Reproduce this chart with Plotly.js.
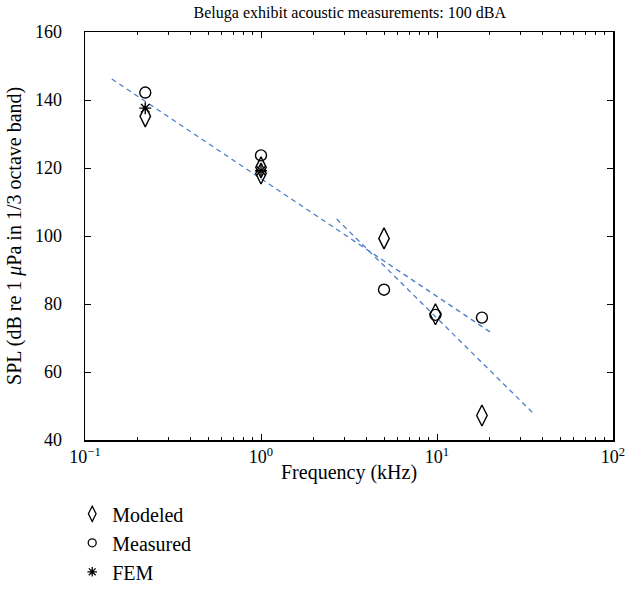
<!DOCTYPE html>
<html>
<head>
<meta charset="utf-8">
<script src="https://cdn.plot.ly/plotly-3.0.1.min.js"></script>
<style>body{margin:0;padding:0;background:#fff}#chart{width:628px;height:608px}</style>
</head>
<body>
<div id="chart"></div>
<script>
// Data
const modeledFreq = [0.22, 1.0, 1.0, 5.0, 9.8, 18.0];
const modeledSPL  = [135.2, 120.2, 118.4, 99.3, 77.0, 47.2];
const measuredFreq = [0.22, 1.0, 5.0, 9.8, 18.0];
const measuredSPL  = [142.2, 123.7, 84.2, 76.8, 76.0];
const femFreq = [0.22, 1.0];
const femSPL  = [137.6, 119.2];
const fit1Freq = [0.142, 20.8];
const fit1SPL  = [146.2, 71.2];
const fit2Freq = [2.69, 35.0];
const fit2SPL  = [105.0, 48.0];
const xTickVals = [0.1, 1, 10, 100];
const xTickText = ['10<sup>−1</sup>', '10<sup>0</sup>', '10<sup>1</sup>', '10<sup>2</sup>'];
const xMinorVals = [0.2,0.3,0.4,0.5,0.6,0.7,0.8,0.9, 2,3,4,5,6,7,8,9, 20,30,40,50,60,70,80,90];
const yTickVals = [40, 60, 80, 100, 120, 140, 160];
const yTickText = ['40', '60', '80', '100', '120', '140', '160'];
const seriesNames = ['Modeled', 'Measured', 'FEM'];
const chartTitle = 'Beluga exhibit acoustic measurements: 100 dBA';
const xTitle = 'Frequency (kHz)';
const yTitle = 'SPL (dB re 1 <i>μ</i>Pa in 1/3 octave band)';

const serif = 'Liberation Serif, Times New Roman, serif';
const lineStyle = {color: '#4a7fc8', width: 1.3, dash: '5px,4px'};
const blk = '#000';
const pad = '\u2002\u2002';

const traces = [
  {x: fit1Freq, y: fit1SPL, mode: 'lines', line: lineStyle, showlegend: false, hoverinfo: 'skip'},
  {x: fit2Freq, y: fit2SPL, mode: 'lines', line: lineStyle, showlegend: false, hoverinfo: 'skip'},
  {x: modeledFreq, y: modeledSPL, mode: 'markers', name: seriesNames[0], showlegend: false,
   marker: {symbol: 'diamond-tall-open', size: 15, color: blk, line: {width: 1.4, color: blk}}},
  {x: measuredFreq, y: measuredSPL, mode: 'markers', name: seriesNames[1], showlegend: false,
   marker: {symbol: 'circle-open', size: 11, color: blk, line: {width: 1.4, color: blk}}},
  {x: femFreq, y: femSPL, mode: 'markers', name: seriesNames[2], showlegend: false,
   marker: {symbol: 'asterisk-open', size: 10, color: blk, line: {width: 1.4, color: blk}}},
  // legend entries (smaller markers as in the reference legend)
  {x: [null], y: [null], mode: 'markers', name: seriesNames[0],
   marker: {symbol: 'diamond-tall-open', size: 11, color: blk, line: {width: 1.3, color: blk}}},
  {x: [null], y: [null], mode: 'markers', name: seriesNames[1],
   marker: {symbol: 'circle-open', size: 8, color: blk, line: {width: 1.3, color: blk}}},
  {x: [null], y: [null], mode: 'markers', name: seriesNames[2],
   marker: {symbol: 'asterisk-open', size: 8, color: blk, line: {width: 1.3, color: blk}}}
];

const layout = {
  width: 628, height: 608,
  margin: {l: 85, r: 15, t: 32, b: 168, autoexpand: false},
  paper_bgcolor: '#fff', plot_bgcolor: '#fff',
  font: {family: serif, size: 18, color: blk},
  title: {text: chartTitle, font: {family: serif, size: 16, color: blk},
          x: 0.557, xanchor: 'center', y: 0.979, yanchor: 'middle'},
  xaxis: {
    type: 'log', range: [-1, 2], tickmode: 'array', tickvals: xTickVals, ticktext: xTickText,
    ticks: 'inside', ticklen: 6, tickwidth: 1, tickcolor: blk,
    minor: {tickmode: 'array', tickvals: xMinorVals, ticks: 'inside', ticklen: 3, tickwidth: 1, tickcolor: blk, showgrid: false},
    showline: true, linecolor: blk, linewidth: 1.5, mirror: 'ticks',
    showgrid: false, zeroline: false, automargin: false,
    tickfont: {family: serif, size: 18, color: blk}
  },
  yaxis: {
    range: [40, 160], tickmode: 'array', tickvals: yTickVals, ticktext: yTickText.map(t => t + pad),
    ticks: 'inside', ticklen: 6, tickwidth: 1, tickcolor: blk,
    showline: true, linecolor: blk, linewidth: 1.5, mirror: 'ticks',
    showgrid: false, zeroline: false, automargin: false,
    tickfont: {family: serif, size: 18, color: blk}
  },
  annotations: [
    {text: xTitle, xref: 'paper', yref: 'paper', x: 0.5, y: -0.08, xanchor: 'center', yanchor: 'middle',
     showarrow: false, font: {family: serif, size: 20, color: blk}},
    {text: yTitle, xref: 'paper', yref: 'paper', x: -0.1345, y: 0.5, xanchor: 'center', yanchor: 'middle',
     textangle: -90, showarrow: false, font: {family: serif, size: 20, color: blk}}
  ],
  showlegend: true,
  legend: {xref: 'container', yref: 'container', x: 0.115, xanchor: 'left', y: 0.187, yanchor: 'top',
           font: {family: serif, size: 20, color: blk},
           bgcolor: 'rgba(0,0,0,0)', tracegroupgap: 0, itemwidth: 30}
};

Plotly.newPlot('chart', traces, layout, {displayModeBar: false, staticPlot: true});
</script>
</body>
</html>
